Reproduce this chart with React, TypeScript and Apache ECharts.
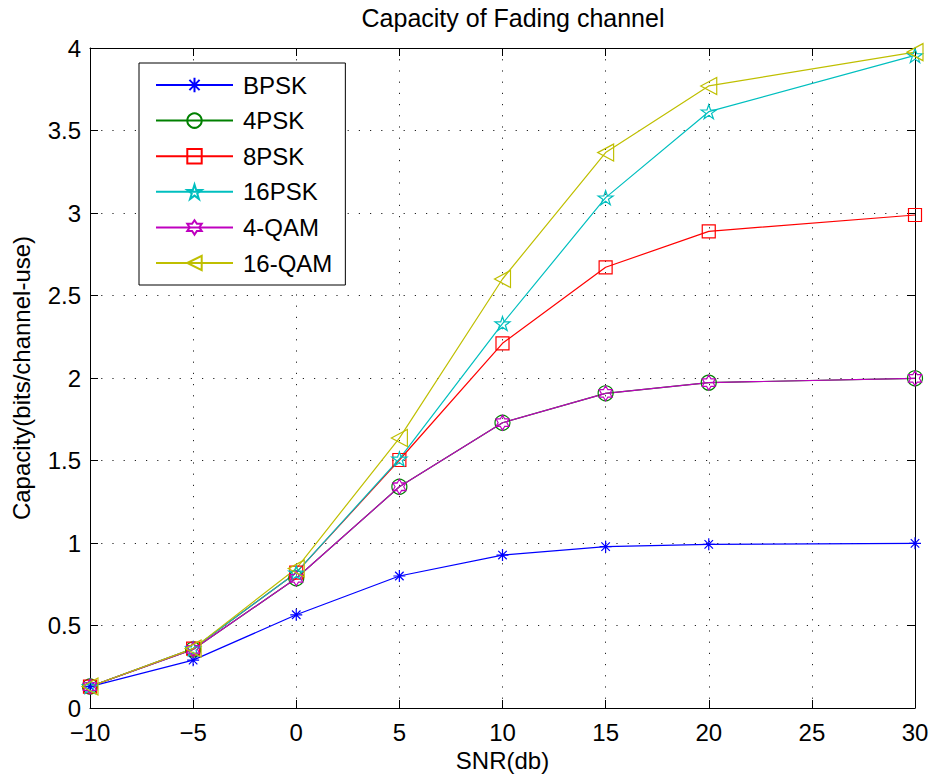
import React, { useEffect, useRef } from "react";
import * as echarts from "echarts";

const snr = [-10, -5, 0, 5, 10, 15, 20, 30];
const bpsk = [0.13, 0.29, 0.565, 0.8, 0.927, 0.978, 0.992, 0.998];
const psk4 = [0.13, 0.355, 0.786, 1.341, 1.729, 1.907, 1.972, 1.998];
const psk8 = [0.13, 0.36, 0.82, 1.503, 2.21, 2.671, 2.889, 2.988];
const psk16 = [0.13, 0.36, 0.82, 1.51, 2.33, 3.093, 3.614, 3.955];
const qam4 = [0.13, 0.355, 0.786, 1.341, 1.729, 1.907, 1.972, 1.998];
const qam16 = [0.13, 0.36, 0.845, 1.636, 2.6, 3.366, 3.77, 3.975];
const seriesNames = ["BPSK", "4PSK", "8PSK", "16PSK", "4-QAM", "16-QAM"];

const FONT = "Liberation Sans, Arial, Helvetica, sans-serif";

const ASTERISK = "path://M0,-10L0,10M-10,0L10,0M-7.07,-7.07L7.07,7.07M-7.07,7.07L7.07,-7.07";
const PENTAGRAM =
  "path://M0,-100L22.45,-30.9L95.1,-30.9L36.3,11.8L58.8,80.9L0,38.2L-58.8,80.9L-36.3,11.8L-95.1,-30.9L-22.45,-30.9Z";
const HEXAGRAM =
  "path://M0,-100L28.87,-50L86.6,-50L57.7,0L86.6,50L28.87,50L0,100L-28.87,50L-86.6,50L-57.7,0L-86.6,-50L-28.87,-50Z";
const LEFTTRI = "path://M-100,0L100,-100L100,100Z";

export default function App() {
  const ref = useRef<HTMLDivElement>(null);
  useEffect(() => {
    if (!ref.current) return;
    const chart = echarts.init(ref.current, null, { renderer: "svg" });
    const mk = (
      name: string,
      vals: number[],
      color: string,
      symbol: string,
      size: number | number[]
    ) => ({
      name,
      type: "line",
      xAxisIndex: 0,
      yAxisIndex: 0,
      data: snr.map((x, i) => [x, vals[i]]),
      color,
      symbol,
      symbolSize: size,
      showAllSymbol: true,
      lineStyle: { color, width: 1.2 },
      itemStyle: {
        color: "rgba(255,255,255,0)",
        borderColor: color,
        borderWidth: 1.2,
      },
      emphasis: { disabled: true },
    });
    const series = [
      mk(seriesNames[0], bpsk, "#0000ff", ASTERISK, 12),
      mk(seriesNames[1], psk4, "#008000", "circle", 15),
      mk(seriesNames[2], psk8, "#ff0000", "rect", 13),
      mk(seriesNames[3], psk16, "#00bfbf", PENTAGRAM, [15, 14]),
      mk(seriesNames[4], qam4, "#bf00bf", HEXAGRAM, [13, 15]),
      mk(seriesNames[5], qam16, "#bfbf00", LEFTTRI, [16, 17]),
    ];
    const axisLine = { show: true, onZero: false, lineStyle: { color: "#000", width: 1 } };
    const tick = { show: true, inside: true, length: 8, lineStyle: { color: "#000", width: 1 } };
    const split = { show: true, lineStyle: { color: "#222", width: 1, type: [1.2, 10] } };
    const label = { color: "#000", fontSize: 24, fontFamily: FONT, lineHeight: 18 };
    chart.setOption({
      animation: false,
      backgroundColor: "#fff",
      title: {
        text: "Capacity of Fading channel",
        left: 508,
        top: 0,
        textAlign: "center",
        padding: 5,
        textStyle: { color: "#000", fontSize: 25, fontWeight: "normal", fontFamily: FONT },
      },
      grid: { left: 90, right: 20, top: 48, bottom: 72, containLabel: false },
      legend: {
        orient: "vertical",
        left: 139,
        top: 63,
        padding: [10, 13, 10, 16],
        itemWidth: 77,
        itemHeight: 18,
        itemGap: 11.6,
        backgroundColor: "#fff",
        borderColor: "#000",
        borderWidth: 1,
        borderRadius: 0,
        data: seriesNames,
        textStyle: { color: "#000", fontSize: 24, fontFamily: FONT, lineHeight: 24, padding: [0, 0, 0, 5] },
      },
      xAxis: [
        {
          type: "value",
          min: -10,
          max: 30,
          interval: 5,
          position: "bottom",
          name: "SNR(db)",
          nameLocation: "middle",
          nameGap: 40,
          nameTextStyle: { color: "#000", fontSize: 24, fontFamily: FONT },
          axisLine,
          axisTick: tick,
          axisLabel: {
            ...label,
            margin: 15,
            formatter: (v: number) => String(v).replace("-", "\u2212"),
          },
          splitLine: split,
        },
        {
          type: "value",
          min: -10,
          max: 30,
          interval: 5,
          position: "top",
          axisLine,
          axisTick: tick,
          axisLabel: { show: false },
          splitLine: { show: false },
        },
      ],
      yAxis: [
        {
          type: "value",
          min: 0,
          max: 4,
          interval: 0.5,
          position: "left",
          name: "Capacity(bits/channel-use)",
          nameLocation: "middle",
          nameGap: 57,
          nameRotate: 90,
          nameTextStyle: { color: "#000", fontSize: 24, fontFamily: FONT },
          axisLine,
          axisTick: tick,
          axisLabel: { ...label, margin: 9 },
          splitLine: split,
        },
        {
          type: "value",
          min: 0,
          max: 4,
          interval: 0.5,
          position: "right",
          axisLine,
          axisTick: tick,
          axisLabel: { show: false },
          splitLine: { show: false },
        },
      ],
      series,
    });
    return () => chart.dispose();
  }, []);
  return (
    <div
      ref={ref}
      style={{ position: "fixed", left: 0, top: 0, width: 935, height: 780, background: "#fff" }}
    />
  );
}
